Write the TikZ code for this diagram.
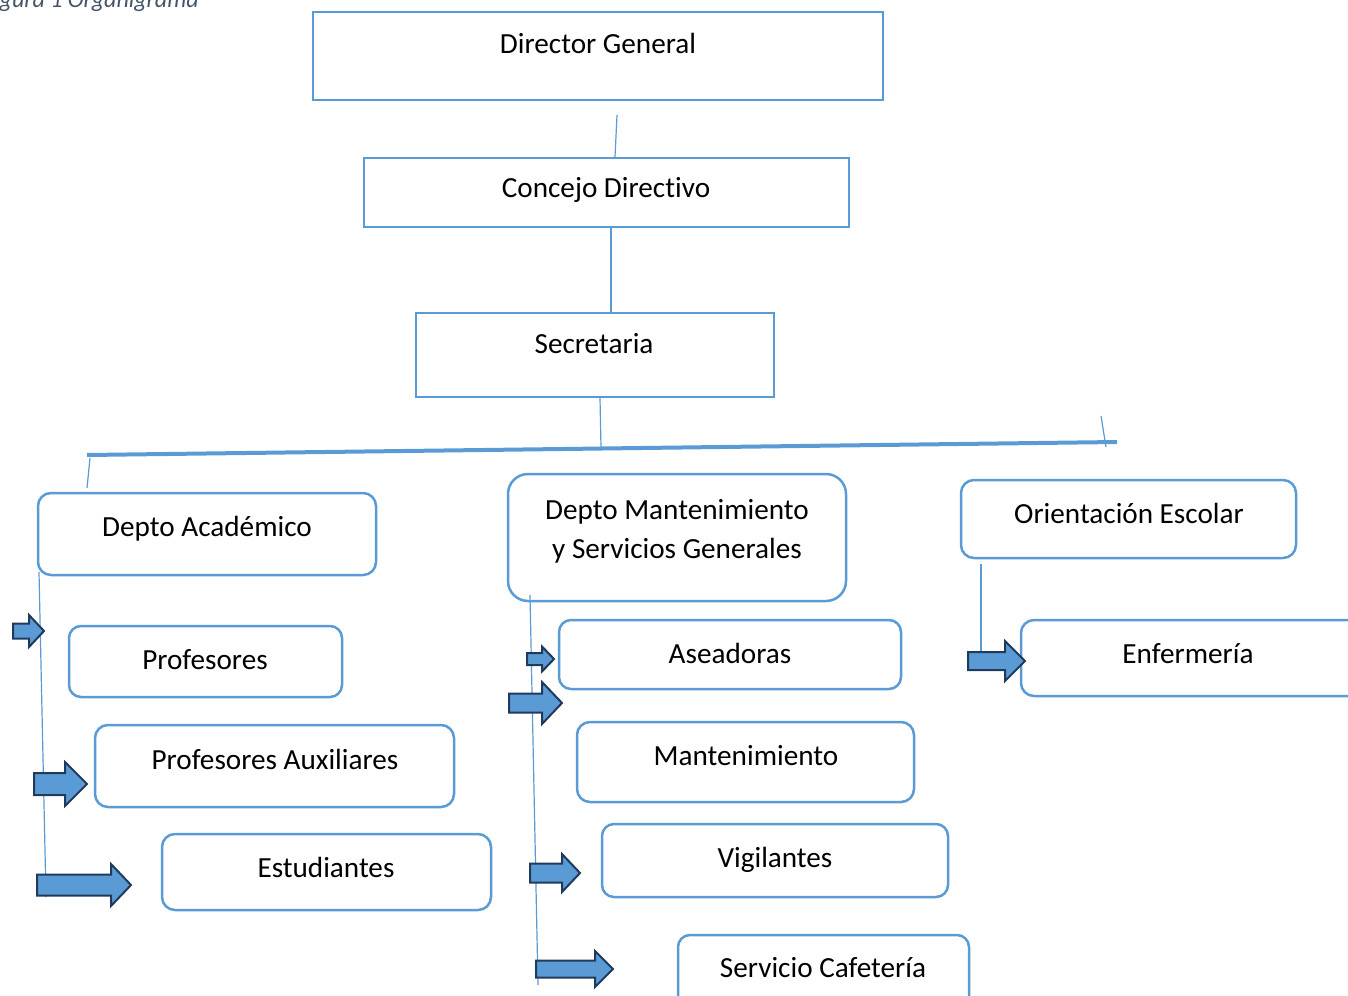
\documentclass[tikz,border=0pt]{standalone}
\usepackage{fontspec}
\setmainfont[Ligatures=NoCommon]{Carlito}
\usetikzlibrary{fit}
\definecolor{ob}{HTML}{5B9BD5}
\definecolor{arrdark}{HTML}{203A5C}
\definecolor{capc}{HTML}{44546A}
% block arrow: x0, x1, cy, body half-height, head half-height, head length
\newcommand\blockarr[6]{%
  \filldraw[arr] (#1,#3-#4) -- (#2-#6,#3-#4) -- (#2-#6,#3-#5) -- (#2,#3) --
    (#2-#6,#3+#5) -- (#2-#6,#3+#4) -- (#1,#3+#4) -- cycle;}
\begin{document}
\begin{tikzpicture}[x=1pt,y=-1pt,
  box/.style={draw=ob,line width=2.5pt,inner sep=0pt},
  txt/.style={anchor=base,inner sep=0pt,font=\fontsize{29.2}{35}\selectfont},
  conn/.style={draw=ob,line width=1.2pt},
  arr/.style={fill=ob,draw=arrdark,line width=2pt,line join=miter}]
\useasboundingbox (0,0) rectangle (1348,995);
\clip (0,0) rectangle (1348,995);

% caption
\node[anchor=base west,inner sep=0pt,text=capc,
  font=\fontsize{24}{28}\selectfont\itshape] (cap) at (-17,8) {Figura 1 Organigrama};

% top boxes
\node[box,fit={(313,12) (883,100)}] (dg) {};
\node[txt] (dgt) at (598,54) {Director General};
\node[box,fit={(364,158) (849,227)}] (cd) {};
\node[txt] (cdt) at (606,197) {Concejo Directivo};
\node[box,fit={(416,313) (774,397)}] (sec) {};
\node[txt] (sect) at (594,353) {Secretaria};

% connectors between top boxes
\coordinate (a1) at (617,115); \coordinate (a2) at (615,157);
\draw[conn] (a1) -- (a2);
\coordinate (b1) at (611,228); \coordinate (b2) at (611,312);
\draw[conn] (b1) -- (b2);
\coordinate (s1) at (600,398); \coordinate (s2) at (601,448);
\draw[conn] (s1) -- (s2);

% horizontal bar
\coordinate (h1) at (87,455); \coordinate (h2) at (1117,442);
\draw[draw=ob,line width=4pt] (h1) -- (h2);
\coordinate (l1) at (90,458); \coordinate (l2) at (87,488);
\draw[conn] (l1) -- (l2);
\coordinate (r1) at (1101,416); \coordinate (r2) at (1106,447);
\draw[conn] (r1) -- (r2);

% departments
\node[box,rounded corners=13pt,fit={(38,493) (376,575)}] (acad) {};
\node[txt] (acadt) at (207,536) {Depto Académico};
\node[box,rounded corners=20pt,fit={(508,474) (846,601)}] (mant) {};
\node[txt] (mantt1) at (677,519) {Depto Mantenimiento};
\node[txt] (mantt2) at (677,558) {y Servicios Generales};
\node[box,rounded corners=13pt,fit={(961,480) (1296,558)}] (ori) {};
\node[txt] (orit) at (1129,523) {Orientación Escolar};

% academic subunits
\node[box,rounded corners=12pt,fit={(69,626) (342,697)}] (prof) {};
\node[txt] (proft) at (205,669) {Profesores};
\node[box,rounded corners=13pt,fit={(95,725) (454,807)}] (paux) {};
\node[txt] (pauxt) at (275,769) {Profesores Auxiliares};
\node[box,rounded corners=13pt,fit={(162,834) (491,910)}] (est) {};
\node[txt] (estt) at (326,877) {Estudiantes};

% maintenance subunits
\node[box,rounded corners=12pt,fit={(559,620) (901,689)}] (ase) {};
\node[txt] (aset) at (730,663) {Aseadoras};
\node[box,rounded corners=13pt,fit={(577,722) (914,802)}] (mtto) {};
\node[txt] (mttot) at (746,765) {Mantenimiento};
\node[box,rounded corners=12pt,fit={(602,824) (948,897)}] (vig) {};
\node[txt] (vigt) at (775,867) {Vigilantes};
\node[box,rounded corners=12pt,fit={(678,935) (969,1010)}] (caf) {};
\node[txt] (caft) at (823,977) {Servicio Cafetería};

% orientation subunit
\node[box,rounded corners=13pt,fit={(1021,620) (1370,696)}] (enf) {};
\node[txt] (enft) at (1188,663) {Enfermería};

% vertical branch lines
\coordinate (v1a) at (39,572); \coordinate (v1b) at (46,897);
\draw[conn] (v1a) -- (v1b);
\coordinate (v2a) at (530,595); \coordinate (v2b) at (538,985);
\draw[conn] (v2a) -- (v2b);
\coordinate (v3a) at (981,564); \coordinate (v3b) at (981,652);
\draw[conn] (v3a) -- (v3b);

% block arrows
\blockarr{13}{44}{631}{7.5}{16}{15}
\blockarr{34}{87}{784}{11}{22}{22}
\blockarr{37}{131}{885}{10.5}{21}{20}
\blockarr{527}{554}{659}{6}{12.5}{12}
\blockarr{509}{562}{703}{9.5}{21}{20}
\blockarr{530}{580}{873}{9.5}{19}{18}
\blockarr{536}{613}{969}{8.5}{18}{18}
\blockarr{968}{1025}{661}{9}{20}{20}
\end{tikzpicture}
\end{document}
